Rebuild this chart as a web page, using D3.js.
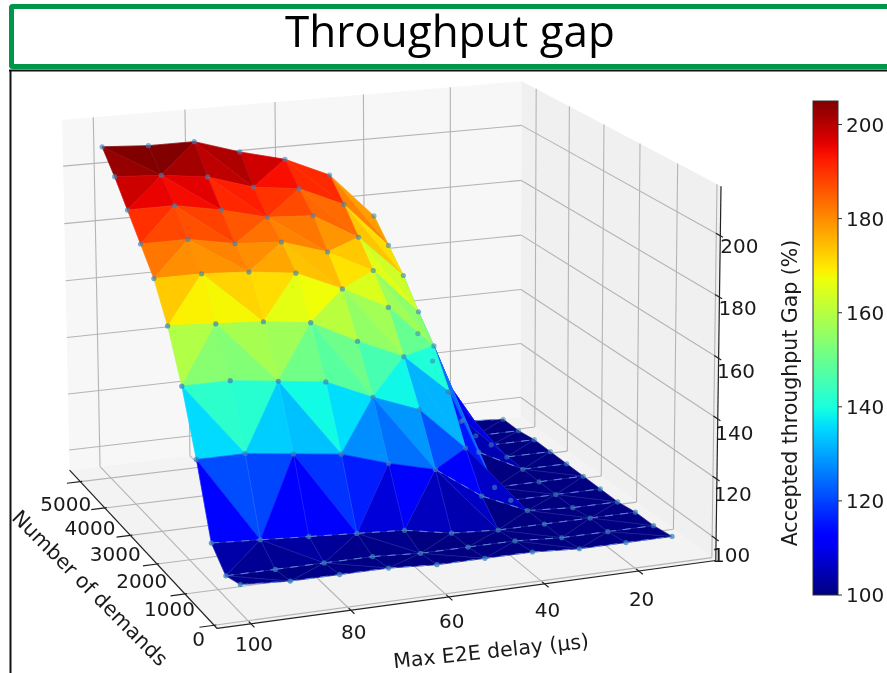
<!DOCTYPE html><html><head><meta charset="utf-8"><script src="https://cdnjs.cloudflare.com/ajax/libs/d3/7.8.5/d3.min.js"></script></head><body style="margin:0;background:#fff;overflow:hidden"><svg id="s" width="887" height="673" style="display:block;filter:blur(0.4px)"></svg><script>
// ---- data ----
const delays=[100,90,80,70,60,50,40,30,20,10];
const demands=[6110,5623,5136,4649,4162,3675,3188,2701,2214,1727,1240];
const gapRow0=[208,207,207,202,198,191,175,131,97,96];
const gapRow1=[201,200,198,193,191,184,168,125,96,96];
const gapRow2=[193,193,190,186,185,176,161,118,97,97];
const gapRow3=[185,185,182,181,176,168,152,112,97,97];
const gapRow4=[177,177,176,174,167,159,144,105,97,97];
const gapRow5=[165,164,163,161,153,146,132,97,97,97];
const gapRow6=[149,149,147,145,138,132,117,97,97,97];
const gapRow7=[129,129,127,125,120,116,105,98,97,97];
const gapRow8=[106,105,104,103,102,99,98,98,98,98];
const gapRow9=[100,100,100,100,99,99,99,98,98,98];
const gapRow10=[102,101,101,101,100,100,100,99,99,99];
const gaps=[gapRow0,gapRow1,gapRow2,gapRow3,gapRow4,gapRow5,gapRow6,gapRow7,gapRow8,gapRow9,gapRow10];
// triangulation: per cell, "\\" or "/" diagonal
const diagonals=["\\/\\/\\\\/\\/","/\\\\/\\\\/\\/","/\\/\\/\\/\\/","/\\/\\/\\/\\/","/\\//\\/\\/\\","/\\/\\/\\/\\/","\\/\\/\\/\\/\\","\\/\\//\\/\\/","/\\/\\//\\/\\","\\/\\/\\/\\/\\"];
const delayTicks=[100,80,60,40,20];
const demandTicks=[1000,2000,3000,4000,5000,6000];
const demandLabels=[0,1000,2000,3000,4000,5000];
const gapTicks=[100,120,140,160,180,200];
const colorbarTicks=[100,120,140,160,180,200];
const titleText="Throughput gap",xLabel="Max E2E delay (µs)",yLabel="Number of demands",zLabel="Accepted throughput Gap (%)";

// ---- scales and camera ----
const sx=d3.scaleLinear([106.7,3.3],[0,1]),sy=d3.scaleLinear([900,6450],[0,1]),sz=d3.scaleLinear([92.8,216],[0,1]);
const calib=[[0,0,0,218,624],[1,0,0,714,567],[1,1,0,522,409],[0,1,0,69,476],[0,1,1,62,118],[1,1,1,521,85],[1,0,1,722,184]];
function solve(){const A=[],b=[];for(const [u,v,w,x,y] of calib){A.push([u,v,w,1,0,0,0,0,-x*u,-x*v,-x*w]);b.push(x);A.push([0,0,0,0,u,v,w,1,-y*u,-y*v,-y*w]);b.push(y);}
const n=11,M=d3.range(n).map(i=>d3.range(n+1).map(j=>{let s=0;for(let k=0;k<A.length;k++)s+=A[k][i]*(j<n?A[k][j]:b[k]);return s;}));
for(let i=0;i<n;i++){let p=i;for(let r=i;r<n;r++)if(Math.abs(M[r][i])>Math.abs(M[p][i]))p=r;[M[i],M[p]]=[M[p],M[i]];for(let r=0;r<n;r++)if(r!==i){const f=M[r][i]/M[i][i];for(let c=i;c<=n;c++)M[r][c]-=f*M[i][c];}}
return M.map((r,i)=>r[n]/r[i]);}
const P=solve();
function proj(u,v,w){const h=P[8]*u+P[9]*v+P[10]*w+1;return [(P[0]*u+P[1]*v+P[2]*w+P[3])/h,(P[4]*u+P[5]*v+P[6]*w+P[7])/h,h];}
const pt=(d,n,g)=>proj(sx(d),sy(n),sz(g));

const jetR=d3.scaleLinear([0,.35,.66,.89,1],[0,0,1,1,.5]),jetG=d3.scaleLinear([0,.125,.375,.64,.91,1],[0,0,1,1,0,0]),jetB=d3.scaleLinear([0,.11,.34,.65,1],[.5,1,1,0,0]);
const cnorm=d3.scaleLinear([100,205],[0,1]).clamp(true);
const jet=g=>{const t=cnorm(g);return d3.rgb(jetR(t)*255,jetG(t)*255,jetB(t)*255).formatHex();};

const svg=d3.select('#s');
const FONT='DejaVu Sans';
const lineGen=d3.line();
const seg=(g,a,b,col,w)=>g.append('path').attr('d',lineGen([a,b])).attr('stroke',col).attr('stroke-width',w).attr('fill','none');

// ---- panes ----
const poly=(pts,fill)=>svg.append('path').attr('d',lineGen(pts.map(p=>proj(...p)))+'Z').attr('fill',fill);
poly([[0,1,0],[1,1,0],[1,1,1],[0,1,1]],'#f7f7f7');
poly([[1,1,0],[1,0,0],[1,0,1],[1,1,1]],'#f0f0f0');
poly([[0,0,0],[1,0,0],[1,1,0],[0,1,0]],'#f3f3f3');

// ---- grid ----
const grid=svg.append('g');const GC='#b4b4b4',GW=1.1;
delayTicks.forEach(d=>{const u=sx(d);seg(grid,proj(u,0,0),proj(u,1,0),GC,GW);seg(grid,proj(u,1,0),proj(u,1,1),GC,GW);});
demandTicks.forEach(n=>{const v=sy(n);seg(grid,proj(0,v,0),proj(1,v,0),GC,GW);seg(grid,proj(1,v,0),proj(1,v,1),GC,GW);});
gapTicks.forEach(g=>{const w=sz(g);seg(grid,proj(0,1,w),proj(1,1,w),GC,GW);seg(grid,proj(1,1,w),proj(1,0,w),GC,GW);});

// ---- axes ----
const ax=svg.append('g');const AC='#222',AW=1.2;
seg(ax,proj(0,1,0),proj(0,0,0),AC,AW);seg(ax,proj(0,0,0),proj(1,0,0),AC,AW);seg(ax,proj(1,0,0),proj(1,0,1),AC,AW);
delayTicks.forEach(d=>{const u=sx(d);seg(ax,proj(u,.012,0),proj(u,-.02,0),AC,AW);});
demandTicks.forEach(n=>{const v=sy(n);seg(ax,proj(.004,v,0),proj(-.028,v,0),AC,AW);});
gapTicks.forEach(g=>{const w=sz(g);seg(ax,proj(1,.02,w),proj(1,-.012,w),AC,AW);});

const txt=(x,y,t,size,rot)=>{const e=svg.append('text').attr('x',x).attr('y',y).attr('text-anchor','middle').attr('dominant-baseline','central').attr('font-family',FONT).attr('font-size',size).attr('fill','#1a1a1a').text(t);if(rot)e.attr('transform',`rotate(${rot} ${x} ${y})`);return e;};
const delayDy=d3.scaleLinear([100,20],[20,28]);
delayTicks.forEach(d=>{const p=proj(sx(d),0,0);txt(p[0]+3,p[1]+delayDy(d),d,20);});
const demDx=d3.scaleLinear([0,5000],[-46,-39]),demDy=d3.scaleLinear([0,5000],[-19,-4]);
demandLabels.forEach(n=>{const p=proj(0,sy(n),0);txt(p[0]+demDx(n),p[1]+demDy(n),n,20);});
const gDx=d3.scaleLinear([100,200],[15,19]),gDy=d3.scaleLinear([100,200],[16,10]);
gapTicks.forEach(g=>{const p=proj(1,0,sz(g));txt(p[0]+gDx(g),p[1]+gDy(g),g,20);});
txt(491,651,xLabel,20.5,-6);
txt(90,588,yLabel,20.5,45);
txt(790,393,zLabel,20.5,-90);

// ---- surface ----
const tris=[];
diagonals.forEach((row,r)=>{d3.range(9).forEach(c=>{
 const a=[r,c],b=[r,c+1],e=[r+1,c],f=[r+1,c+1];
 if(row[c]==="\\"){tris.push({v:[a,b,f],flat:[a,b]},{v:[a,f,e],flat:[e,f]});}
 else{tris.push({v:[a,b,e],flat:[a,b]},{v:[b,f,e],flat:[e,f]});}
});});
const P3=([r,c])=>pt(delays[c],demands[r],gaps[r][c]);
tris.forEach(t=>{t.p=t.v.map(P3);t.z=d3.mean(t.v,([r,c])=>gaps[r][c]);t.h=d3.mean(t.p,p=>p[2]);});
tris.sort((a,b)=>b.h-a.h);
const surf=svg.append('g');
tris.forEach(t=>{
 const col=jet(t.z);
 surf.append('path').attr('d',lineGen(t.p.map(p=>[p[0],p[1]]))+'Z').attr('fill',col).attr('stroke',col).attr('stroke-width',.6).attr('stroke-linejoin','round');
 const lt=d3.interpolateRgb(col,'#9fc4ff')(t.z<125?.35:.12);
 surf.append('path').attr('d',lineGen(t.p.map(p=>[p[0],p[1]]))+'Z').attr('fill','none').attr('stroke',lt).attr('stroke-width',.5).attr('stroke-opacity',.7);
 if(t.z<112){const q=t.flat.map(P3);surf.append('path').attr('d',lineGen(q.map(p=>[p[0],p[1]]))).attr('stroke','#6f9ae8').attr('stroke-width',.8).attr('stroke-dasharray','8 7').attr('fill','none');}
});

// ---- scatter ----
const dots=[];gaps.forEach((row,r)=>row.forEach((g,c)=>dots.push(P3([r,c]))));
const depthOp=d3.scaleLinear([1,1.18],[.8,.5]);
svg.append('g').selectAll('circle').data(dots).join('circle').attr('cx',d=>d[0]).attr('cy',d=>d[1]).attr('r',2.6).attr('fill','#3b82b8').attr('fill-opacity',d=>depthOp(d[2]));

// ---- colour bar ----
const cbY=d3.scaleLinear([100,205],[595,101]);
const defs=svg.append('defs');const lg=defs.append('linearGradient').attr('id','jetg').attr('x1',0).attr('x2',0).attr('y1',1).attr('y2',0);
d3.range(0,1.0001,.02).forEach(t=>lg.append('stop').attr('offset',t).attr('stop-color',jet(100+105*t)));
svg.append('rect').attr('x',813).attr('y',cbY(205)).attr('width',25).attr('height',cbY(100)-cbY(205)).attr('fill','url(#jetg)').attr('stroke','#333').attr('stroke-width',1);
colorbarTicks.forEach(g=>{const y=cbY(g);svg.append('line').attr('x1',838).attr('x2',842).attr('y1',y).attr('y2',y).attr('stroke','#333');
 svg.append('text').attr('x',846).attr('y',y).attr('dominant-baseline','central').attr('font-family',FONT).attr('font-size',20).attr('fill','#1a1a1a').text(g);});

// ---- frames and title ----
svg.append('line').attr('x1',9).attr('x2',887).attr('y1',70.5).attr('y2',70.5).attr('stroke','#111').attr('stroke-width',2);
svg.append('line').attr('x1',10.5).attr('x2',10.5).attr('y1',70).attr('y2',673).attr('stroke','#111').attr('stroke-width',2);
svg.append('rect').attr('x',11.5).attr('y',6.5).attr('width',900).attr('height',60).attr('rx',1).attr('fill','#fff').attr('stroke','#00964a').attr('stroke-width',5);
svg.append('text').attr('x',450).attr('y',47).attr('text-anchor','middle').attr('font-family','Open Sans').attr('font-size',44).attr('fill','#000').text(titleText);
</script></body></html>
